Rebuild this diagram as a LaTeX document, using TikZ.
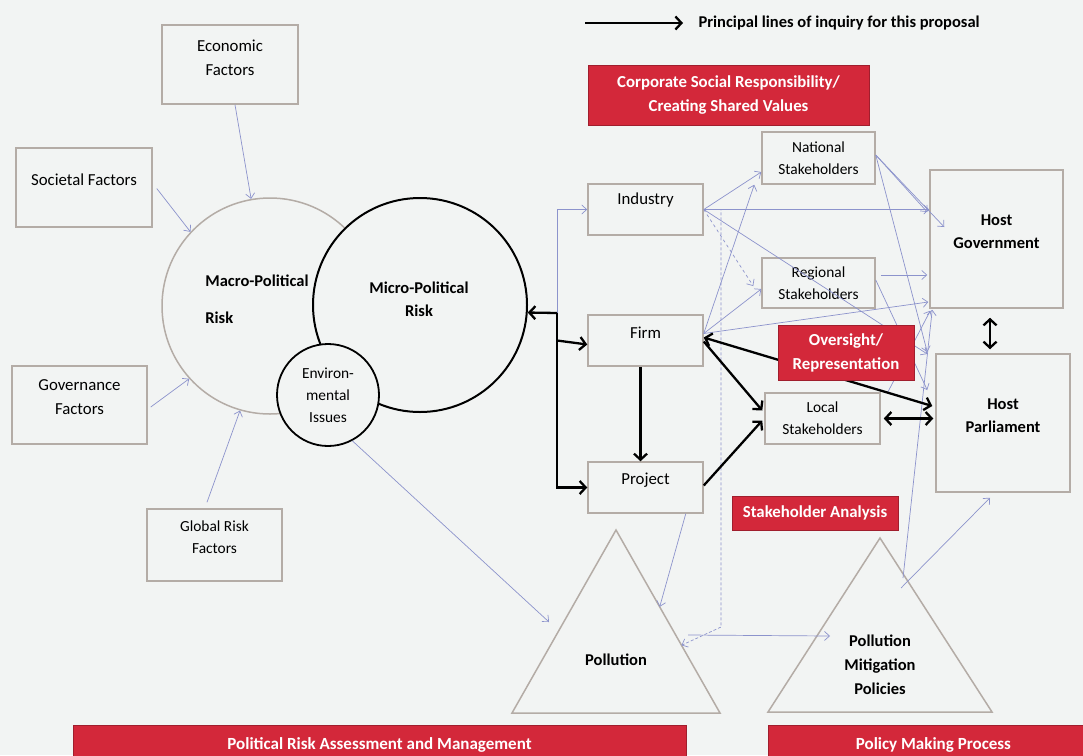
\documentclass[tikz,border=0pt]{standalone}
\usepackage{fontspec}
\setmainfont{Carlito}
\usetikzlibrary{arrows.meta,calc}
\definecolor{pagebg}{RGB}{242,244,243}
\definecolor{boxline}{RGB}{180,172,166}
\definecolor{redbar}{RGB}{211,40,58}
\definecolor{rededge}{RGB}{160,30,45}
\definecolor{linkblue}{RGB}{140,147,204}

\tikzset{
  fbox/.style={draw=boxline, line width=1.5pt, rectangle, inner sep=0pt},
  btxt/.style={align=center, font=\fontsize{16.8}{24}\selectfont},
  stxt/.style={align=center, font=\fontsize{15.4}{22}\selectfont},
  htxt/.style={align=center, font=\fontsize{16.5}{23.5}\selectfont\bfseries},
  redbox/.style={fill=redbar, draw=rededge, line width=0.8pt, text=white, align=center,
    font=\fontsize{16.8}{24}\selectfont\bfseries, inner sep=0pt},
  link/.style={draw=linkblue, line width=0.7pt, -{Straight Barb[length=5pt,width=9pt]}},
  inquiry/.style={line width=2.3pt, -{Straight Barb[length=6pt,width=13pt]}},
  inquiryboth/.style={line width=2.3pt, {Straight Barb[length=6pt,width=13pt]}-{Straight Barb[length=6pt,width=13pt]}}
}

\begin{document}
\begin{tikzpicture}[x=1pt,y=-1pt]
  \fill[pagebg] (0,0) rectangle (1083,755);
  \useasboundingbox (0,0) rectangle (1083,755);

  % legend
  \coordinate (legA) at (585,23);
  \coordinate (legB) at (683,23);
  \draw[inquiry] (legA) -- (legB);
  \node[anchor=west, font=\fontsize{16.5}{18}\selectfont\bfseries] (legtx) at (695,23) {Principal lines of inquiry for this proposal};

  % risk factors
  \node[fbox, minimum width=136pt, minimum height=79pt] (eco) at (230,64.5) {};
  \node[btxt] (ecotx) at (230,58) {Economic\\Factors};
  \node[fbox, minimum width=136pt, minimum height=79pt] (soc) at (84,187.5) {};
  \node[btxt] (soctx) at (84,180) {Societal Factors};
  \node[fbox, minimum width=135pt, minimum height=78pt] (gov) at (79.5,405) {};
  \node[btxt] (govtx) at (79.5,397) {Governance\\Factors};
  \node[fbox, minimum width=135pt, minimum height=72pt] (glob) at (214.5,545) {};
  \node[stxt] (globtx) at (214.5,537) {Global Risk\\Factors};

  % political risk circles
  \node[circle, draw=boxline, line width=1.5pt, minimum size=216pt, inner sep=0pt] (macro) at (270,306) {};
  \node[circle, draw=black, line width=2pt, fill=pagebg, minimum size=214pt, inner sep=0pt] (micro) at (420,305) {};
  \node[circle, draw=black, line width=1.8pt, fill=pagebg, minimum size=102pt, inner sep=0pt, stxt] (env) at (328,395) {Environ-\\mental\\Issues};
  \node[htxt, align=left] (macrotx) at (257,299.5) {Macro-Political\\[13pt]Risk};
  \node[htxt] (microtx) at (419,299.5) {Micro-Political\\Risk};

  % firm side
  \node[fbox, minimum width=115pt, minimum height=51pt] (ind) at (645.5,209.5) {};
  \node[btxt] (indtx) at (645.5,200) {Industry};
  \node[fbox, minimum width=115pt, minimum height=51pt] (firm) at (645.5,340.5) {};
  \node[btxt] (firmtx) at (645.5,333) {Firm};
  \node[fbox, minimum width=115pt, minimum height=51pt] (proj) at (645.5,487.5) {};
  \node[btxt] (projtx) at (645.5,480) {Project};

  % stakeholders
  \node[fbox, stxt, minimum width=113pt, minimum height=52pt] (nat) at (818.5,158) {National\\Stakeholders};
  \node[fbox, stxt, minimum width=113pt, minimum height=50pt] (reg) at (818.5,283) {Regional\\Stakeholders};
  \node[fbox, stxt, minimum width=115pt, minimum height=51pt] (loc) at (822.5,418.5) {Local\\Stakeholders};
  \node[fbox, minimum width=133pt, minimum height=138pt] (hgov) at (996.5,239) {};
  \node[htxt] (hgovtx) at (996.5,231.5) {Host\\Government};
  \node[fbox, minimum width=134pt, minimum height=138pt] (hparl) at (1003,423) {};
  \node[htxt] (hparltx) at (1003,415.5) {Host\\Parliament};

  % triangles
  \coordinate (pollA) at (616,530);
  \coordinate (pollL) at (512,713);
  \coordinate (pollR) at (720,713);
  \draw[boxline, line width=1.5pt] (pollA) -- (pollL) -- (pollR) -- cycle;
  \node[htxt] (polltx) at (616,660) {Pollution};
  \coordinate (mitA) at (880,538);
  \coordinate (mitL) at (768,712);
  \coordinate (mitR) at (992,712);
  \draw[boxline, line width=1.5pt] (mitA) -- (mitL) -- (mitR) -- cycle;
  \node[htxt, font=\fontsize{16.5}{24}\selectfont\bfseries] (mittx) at (880,665) {Pollution\\Mitigation\\Policies};

  % free ends
  \coordinate (jn) at (557,313);
  \coordinate (dashc) at (721,627);
  \coordinate (pollLm) at (549,622);
  \coordinate (pollRm) at ($(pollA)!0.63!(pollR)$);
  \coordinate (pollRp) at ($(pollA)!0.42!(pollR)$);
  \coordinate (pollout) at (688,635);
  \coordinate (mitin) at (830,636);
  \coordinate (mitup1) at (903,578);
  \coordinate (mitup2) at (901,588);

  % factor links
  \draw[link] ([xshift=5pt]eco.south) -- (macro.100);
  \draw[link] ([xshift=4pt,yshift=-1pt]soc.east) -- (macro.137);
  \draw[link] ([xshift=3pt,yshift=-2pt]gov.east) -- (macro.222);
  \draw[link] ([xshift=-7.5pt,yshift=6pt]glob.north) -- (macro.254);
  \draw[link] (env.-62) -- (pollLm);

  % thin links on the right
  \draw[link] (jn) |- (ind.west);
  \draw[link] (ind.east) -- ([yshift=-14pt]nat.west);
  \draw[link] (ind.east) -- (ind.east -| hgov.west);
  \draw[link, dashed] (ind.east) -- ([xshift=-8pt,yshift=-3pt]reg.west);
  \draw[link, densely dashed] (ind.east) -| (dashc) -- (pollRm);
  \draw[link] (ind.east) -- ([xshift=-8pt,yshift=69pt]hparl.west);
  \draw[link] ([yshift=3pt]nat.east) -- ([xshift=-2pt,yshift=27pt]hgov.west);
  \draw[link] ([yshift=3pt]nat.east) -- ([xshift=15pt,yshift=12pt]hgov.west);
  \draw[link] ([yshift=3pt]nat.east) -- ([xshift=-8pt,yshift=71pt]hparl.west);
  \draw[link] ([xshift=5pt,yshift=8pt]reg.east) -- ([xshift=-2pt,yshift=8pt]reg.east -| hgov.west);
  \draw[link] ([yshift=3pt]reg.east) -- ([xshift=-8pt,yshift=33pt]hparl.west);
  \draw[link] ([yshift=7pt]firm.east) -- ([xshift=-7pt]nat.south west);
  \draw[link] ([yshift=7pt]firm.east) -- ([yshift=-6pt]reg.west);
  \draw[link] ([yshift=7pt]firm.east) -- ([xshift=-1pt,yshift=-63pt]hgov.west);
  \draw[link] ([xshift=7pt]loc.north east) -- ([xshift=1pt,yshift=-2pt]hgov.south west);
  \draw[link] (mitup1) -- ([xshift=3pt,yshift=-1pt]hgov.south west);
  \draw[link] (mitup2) -- ([xshift=-13pt,yshift=-5pt]hparl.south);
  \draw[link] ([xshift=-18pt]proj.south east) -- (pollRp);
  \draw[link] (pollout) -- (mitin);

  % principal lines of inquiry
  \draw[inquiry] (jn) -- (micro.-4);
  \draw[inquiry] (jn) |- (proj.west);
  \draw[inquiry] (jn |- firm.west) -- ([yshift=-4pt]firm.west);
  \draw[inquiry] ([xshift=-5pt]firm.south) -- ([xshift=-5pt]proj.north);
  \draw[inquiry] ([yshift=-1pt]firm.east) -- ([xshift=-2pt,yshift=8pt]loc.west);
  \draw[inquiry] ([yshift=2pt]proj.east) -- ([xshift=-2pt,yshift=-2pt]loc.west);
  \draw[inquiryboth] ([yshift=3pt]firm.east) -- ([xshift=-3pt,yshift=17pt]hparl.west);
  \draw[inquiryboth] ([xshift=3pt]loc.east) -- ([xshift=-2pt]loc.east -| hparl.west);
  \draw[inquiryboth] ([xshift=-6.5pt,yshift=-9pt]hgov.south) -- ([xshift=-13pt,yshift=4pt]hparl.north);

  % red labels
  \node[redbox, minimum width=281pt, minimum height=60pt] (csr) at (728.5,95) {Corporate Social Responsibility/\\Creating Shared Values};
  \node[redbox, minimum width=136pt, minimum height=55pt] (over) at (846,352.5) {Oversight/\\Representation};
  \node[redbox, minimum width=166pt, minimum height=34pt] (sa) at (815,513) {Stakeholder Analysis};
  \node[redbox, minimum width=613pt, minimum height=40pt, anchor=north, font=\fontsize{17}{20}\selectfont\bfseries] (pram) at (379.5,725) {Political Risk Assessment and Management};
  \node[redbox, minimum width=330pt, minimum height=40pt, anchor=north west, font=\fontsize{17}{20}\selectfont\bfseries] (pmp) at (768,725) {Policy Making Process};
\end{tikzpicture}
\end{document}
